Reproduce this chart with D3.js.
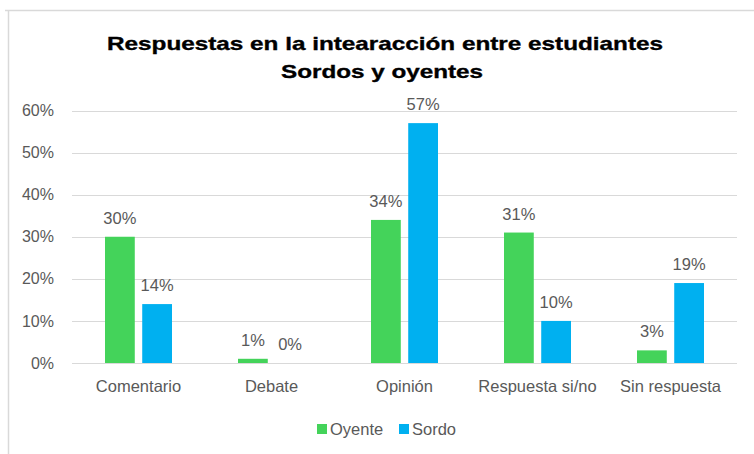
<!DOCTYPE html>
<html>
<head>
<meta charset="utf-8">
<script src="https://cdn.jsdelivr.net/npm/d3@7"></script>
<style>
  body { margin: 0; background: #fff; }
  svg { display: block; }
</style>
</head>
<body>
<svg id="chart" width="754" height="454"></svg>
<script>
const categorias = ["Comentario", "Debate", "Opinión", "Respuesta si/no", "Sin respuesta"];
const oyente = [0.30, 0.01, 0.34, 0.31, 0.03];
const sordo = [0.14, 0.00, 0.57, 0.10, 0.19];
const series = ["Oyente", "Sordo"];
const colores = ["#44d35a", "#00b0f0"];
const yTicks = [0, 0.1, 0.2, 0.3, 0.4, 0.5, 0.6];
const titulo = ["Respuestas en la intearacción entre estudiantes", "Sordos y oyentes"];

const svg = d3.select("#chart");
const width = 754, height = 454;
const margin = { top: 110.5, right: 17, bottom: 91, left: 72 };
const fuente = "Liberation Sans, Arial, sans-serif";
const gris = "#595959";

// marco del grafico
svg.append("line")
  .attr("x1", 5).attr("x2", width).attr("y1", 10.5).attr("y2", 10.5)
  .attr("stroke", "#d9d9d9").attr("stroke-width", 1.5);
svg.append("line")
  .attr("x1", 8.5).attr("x2", 8.5).attr("y1", 10).attr("y2", height)
  .attr("stroke", "#d9d9d9").attr("stroke-width", 1.5);

// titulo
svg.append("text")
  .attr("x", 385).attr("y", 50)
  .attr("text-anchor", "middle")
  .attr("font-family", fuente)
  .attr("font-weight", "bold")
  .attr("font-size", 19)
  .attr("stroke", "#000").attr("stroke-width", 0.35)
  .attr("textLength", 556).attr("lengthAdjust", "spacingAndGlyphs")
  .text(titulo[0]);
svg.append("text")
  .attr("x", 382).attr("y", 78)
  .attr("text-anchor", "middle")
  .attr("font-family", fuente)
  .attr("font-weight", "bold")
  .attr("font-size", 19)
  .attr("stroke", "#000").attr("stroke-width", 0.35)
  .attr("textLength", 202).attr("lengthAdjust", "spacingAndGlyphs")
  .text(titulo[1]);

const x0 = d3.scaleBand()
  .domain(categorias)
  .range([margin.left, width - margin.right])
  .paddingInner(0).paddingOuter(0);

const x1 = d3.scaleBand()
  .domain(series)
  .range([33, 100])
  .paddingInner(0.2);

const y = d3.scaleLinear()
  .domain([0, 0.6])
  .range([height - margin.bottom, margin.top]);

// rejilla
svg.append("g")
  .selectAll("line")
  .data(yTicks)
  .join("line")
  .attr("x1", margin.left).attr("x2", width - margin.right)
  .attr("y1", d => Math.round(y(d)) + 0.5).attr("y2", d => Math.round(y(d)) + 0.5)
  .attr("stroke", "#d9d9d9").attr("stroke-width", 1);

// eje y
const yAxis = d3.axisLeft(y)
  .tickValues(yTicks)
  .tickFormat(d3.format(".0%"))
  .tickSize(0).tickPadding(18);
svg.append("g")
  .attr("transform", `translate(${margin.left},0)`)
  .call(yAxis)
  .call(g => g.select(".domain").remove())
  .selectAll("text")
  .attr("font-family", fuente)
  .attr("font-size", 16)
  .attr("fill", gris);

// eje x
const xAxis = d3.axisBottom(x0).tickSize(0).tickPadding(17);
svg.append("g")
  .attr("transform", `translate(0,${height - margin.bottom})`)
  .call(xAxis)
  .call(g => g.select(".domain").remove())
  .selectAll("text")
  .attr("font-family", fuente)
  .attr("font-size", 16.5)
  .attr("fill", gris);

// barras
const datos = categorias.map((c, i) => ({ cat: c, valores: [oyente[i], sordo[i]] }));
const grupos = svg.append("g")
  .selectAll("g")
  .data(datos)
  .join("g")
  .attr("transform", d => `translate(${x0(d.cat)},0)`);

grupos.selectAll("rect")
  .data(d => d.valores.map((v, j) => ({ serie: series[j], v, j })))
  .join("rect")
  .attr("x", d => x1(d.serie))
  .attr("width", x1.bandwidth())
  .attr("y", d => y(d.v))
  .attr("height", d => y(0) - y(d.v))
  .attr("fill", d => colores[d.j]);

grupos.selectAll("text")
  .data(d => d.valores.map((v, j) => ({ serie: series[j], v, j })))
  .join("text")
  .attr("x", d => x1(d.serie) + x1.bandwidth() / 2)
  .attr("y", d => y(d.v) - 13)
  .attr("text-anchor", "middle")
  .attr("font-family", fuente)
  .attr("font-size", 16.5)
  .attr("fill", gris)
  .text(d => d3.format(".0%")(d.v));

// leyenda
const leyenda = svg.append("g").attr("transform", "translate(317,429)");
const items = leyenda.selectAll("g")
  .data(series)
  .join("g")
  .attr("transform", (d, i) => `translate(${i * 82},0)`);
items.append("rect")
  .attr("x", 0).attr("y", -5).attr("width", 10).attr("height", 10)
  .attr("fill", (d, i) => colores[i]);
items.append("text")
  .attr("x", 13).attr("y", 6)
  .attr("font-family", fuente)
  .attr("font-size", 16.5)
  .attr("fill", gris)
  .text(d => d);
</script>
</body>
</html>
